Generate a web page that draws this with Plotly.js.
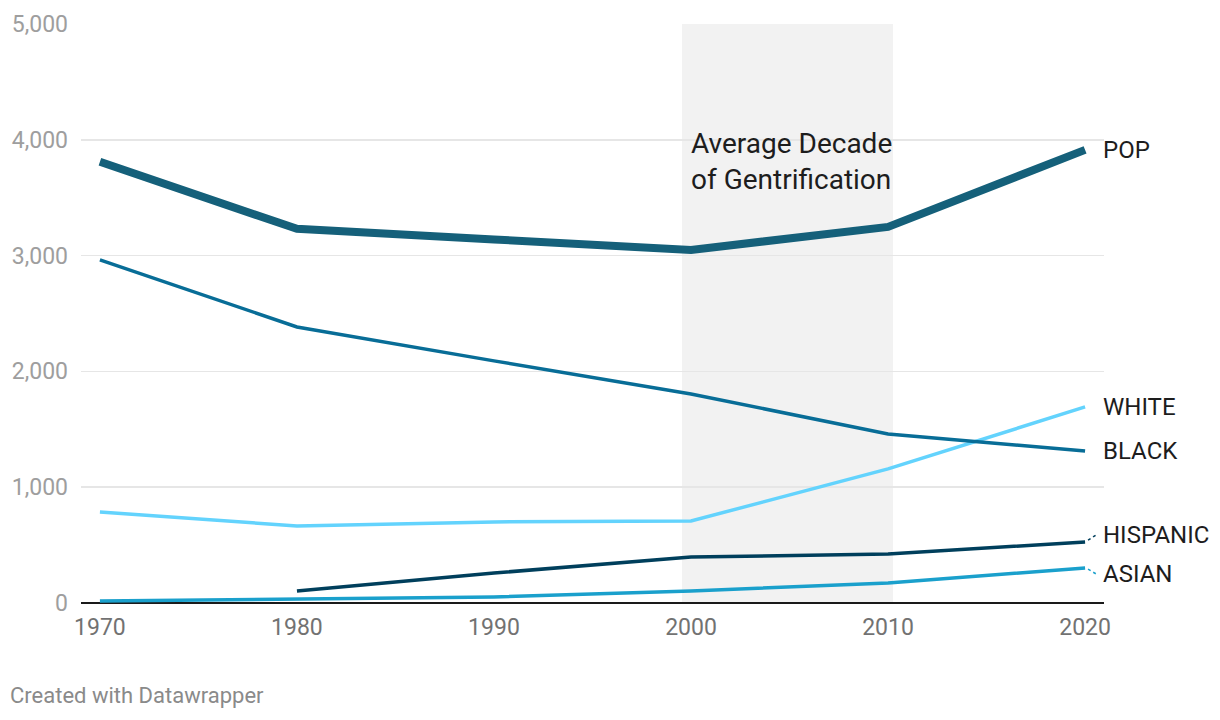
<!DOCTYPE html>
<html>
<head>
<meta charset="utf-8">
<script src="https://cdn.plot.ly/plotly-3.0.1.min.js"></script>
<style>
html,body{margin:0;padding:0;background:#fff;}
#chart{width:1220px;height:720px;}
</style>
</head>
<body>
<div id="chart"></div>
<script>
var years = [1970, 1980, 1990, 2000, 2010, 2020];
var pop = [3810, 3231, 3140, 3049, 3248, 3913];
var black = [2963, 2384, 2091, 1805, 1460, 1313];
var white = [786, 665, 700, 708, 1158, 1693];
var hispanic = [null, 104, 259, 397, 423, 527];
var asian = [17, 35, 52, 104, 173, 302];
var yTicks = [0, 1000, 2000, 3000, 4000, 5000];
var gentrificationStart = 1999.54;
var gentrificationEnd = 2010.25;

var FONT = 'Roboto, "Open Sans", sans-serif';

function tr(name, y, color, width) {
  return {
    x: years, y: y, name: name, type: 'scatter', mode: 'lines',
    line: {color: color, width: width},
    connectgaps: false, hoverinfo: 'skip'
  };
}

var data = [
  tr('WHITE', white, '#63d3fd', 3.5),
  tr('ASIAN', asian, '#1aa0cc', 3.5),
  tr('HISPANIC', hispanic, '#003f5c', 3.5),
  tr('BLACK', black, '#086d97', 3.5),
  tr('POP', pop, '#15607a', 8)
];

function endLabel(text, yv) {
  return {
    x: 2020.96, y: yv, xref: 'x', yref: 'y', text: text, showarrow: false,
    xanchor: 'left', yanchor: 'middle', xshift: -3,
    font: {family: FONT, size: 24, color: '#1d1d1d'}
  };
}

var layout = {
  width: 1220, height: 720,
  margin: {l: 81, r: 116, t: 24, b: 117},
  paper_bgcolor: '#fff', plot_bgcolor: 'rgba(0,0,0,0)',
  showlegend: false,
  font: {family: FONT},
  xaxis: {
    range: [1969.04, 2020.96],
    tickvals: years,
    ticktext: years.map(String),
    showgrid: false, zeroline: false, showline: false,
    ticks: '', ticklabelstandoff: 8,
    tickfont: {family: FONT, size: 23, color: '#727272'},
    fixedrange: true
  },
  yaxis: {
    range: [0, 5000],
    tickvals: yTicks,
    tickformat: ',',
    showgrid: true, gridcolor: '#e6e6e6', gridwidth: 1.5,
    zeroline: true, zerolinecolor: '#1a1a1a', zerolinewidth: 2,
    showline: false, ticks: '', ticklabelstandoff: 12,
    tickfont: {family: FONT, size: 23, color: '#9e9e9e'},
    fixedrange: true
  },
  shapes: [
    {type: 'rect', xref: 'x', yref: 'y', x0: gentrificationStart, x1: gentrificationEnd,
     y0: 0, y1: 5000, fillcolor: '#f2f2f2', line: {width: 0}, layer: 'below'},
    {type: 'line', xref: 'x', yref: 'y', x0: 2020.15, x1: 2020.55, y0: hispanic[5] + 15, y1: hispanic[5] + 60,
     line: {color: '#003f5c', width: 1.5, dash: 'dot'}},
    {type: 'line', xref: 'x', yref: 'y', x0: 2020.15, x1: 2020.55, y0: asian[5] - 10, y1: asian[5] - 50,
     line: {color: '#1aa0cc', width: 1.5, dash: 'dot'}}
  ],
  annotations: [
    endLabel('POP', 3913),
    endLabel('WHITE', 1693),
    endLabel('BLACK', 1313),
    endLabel('HISPANIC', 587),
    endLabel('ASIAN', 250),
    {x: gentrificationStart, y: 3814, xref: 'x', yref: 'y', text: 'Average Decade<br>of Gentrification',
     showarrow: false, xanchor: 'left', yanchor: 'middle', align: 'left', xshift: 7,
     font: {family: FONT, size: 28, color: '#1d1d1d'}},
    {x: -0.0694, y: -0.1606, xref: 'paper', yref: 'paper', text: 'Created with Datawrapper',
     showarrow: false, xanchor: 'left', yanchor: 'middle', xshift: -2,
     font: {family: FONT, size: 22, color: '#8a8a8a'}}
  ]
};

Plotly.newPlot('chart', data, layout, {displayModeBar: false, staticPlot: true});
</script>
</body>
</html>
